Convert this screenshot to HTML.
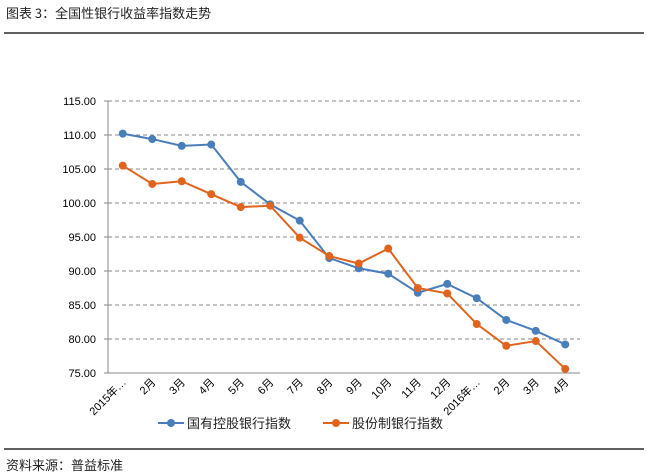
<!DOCTYPE html>
<html><head><meta charset="utf-8"><style>
body{margin:0;background:#fff;width:649px;height:476px;overflow:hidden;font-family:"Liberation Sans","Noto Sans CJK SC",sans-serif}
svg{display:block}
</style></head><body>
<svg id="c" width="649" height="476">
<text x="6" y="18" font-size="13" fill="#222" font-family="Noto Sans CJK SC,sans-serif">图表 3：全国性银行收益率指数走势</text>
<line x1="4" y1="33" x2="644" y2="33" stroke="#000" stroke-width="1.3"/>
<line x1="4" y1="449" x2="644" y2="449" stroke="#000" stroke-width="1.3"/>
<text x="6" y="470" font-size="13" fill="#222" font-family="Noto Sans CJK SC,sans-serif">资料来源：普益标准</text>
<g id="plot"></g>
</svg>
<script>
const categories=["2015年…","2月","3月","4月","5月","6月","7月","8月","9月","10月","11月","12月","2016年…","2月","3月","4月"];
const stateOwned=[110.2,109.4,108.4,108.6,103.1,99.8,97.4,91.9,90.4,89.6,86.8,88.1,86.0,82.8,81.2,79.2];
const jointStock=[105.5,102.8,103.2,101.3,99.4,99.6,94.9,92.2,91.1,93.3,87.5,86.7,82.2,79.0,79.7,75.6];
const yTicks=[75,80,85,90,95,100,105,110,115];
const NS="http://www.w3.org/2000/svg";
const g=document.getElementById('plot');
const x0=108,x1=580,yTop=101,yBot=373,yMin=75,yMax=115;
const xs=i=>x0+(x1-x0)/categories.length*(i+0.5);
const ys=v=>yBot-(v-yMin)/(yMax-yMin)*(yBot-yTop);
function mk(t,a){const e=document.createElementNS(NS,t);for(const k in a)e.setAttribute(k,a[k]);g.appendChild(e);return e;}
yTicks.forEach(v=>{
  if(v>yMin){const l=mk('line',{x1:x0,x2:x1,y1:ys(v),y2:ys(v),stroke:'#888','stroke-dasharray':'4,3'});
  
  }
  const tk=mk('line',{x1:x0-4,x2:x0,y1:ys(v),y2:ys(v),stroke:'#888'});
  
  
  const t=mk('text',{x:96,y:ys(v)+4,'text-anchor':'end','font-size':'11',fill:'#000'});
  t.textContent=v.toFixed(2);
  
  
});
const ya=mk('line',{x1:x0,x2:x0,y1:yTop,y2:yBot,stroke:'#888'});


const xa=mk('line',{x1:x0,x2:x1,y1:yBot,y2:yBot,stroke:'#888'});


categories.forEach((c,i)=>{
  const x=xs(i)+4,y=yBot+10;
  const t=mk('text',{x:x,y:y,'text-anchor':'end','font-size':'11',fill:'#000',transform:`rotate(-45 ${x} ${y})`,'font-family':'Liberation Sans,Noto Sans CJK SC,sans-serif'});
  t.textContent=c;
  
  
});
function series(vals,color,name){
  const p=mk('polyline',{points:vals.map((v,i)=>xs(i)+','+ys(v)).join(' '),fill:'none',stroke:color,'stroke-width':'2'});
  
  
  vals.forEach((v,i)=>{const c=mk('circle',{cx:xs(i),cy:ys(v),r:4,fill:color});
  
  });
}
series(stateOwned,'#4a7ebb','state-owned');
series(jointStock,'#e0641e','joint-stock');
function legend(x,color,label,name){
  const l=mk('line',{x1:x,x2:x+26,y1:423,y2:423,stroke:color,'stroke-width':'2'});
  
  
  const c=mk('circle',{cx:x+13,cy:423,r:4,fill:color});
  
  
  const t=mk('text',{x:x+29,y:428,'font-size':'13',fill:'#222','font-family':'Noto Sans CJK SC,sans-serif'});
  t.textContent=label;
  
  
}
legend(158,'#4a7ebb','国有控股银行指数','state-owned');
legend(323,'#e0641e','股份制银行指数','joint-stock');
</script>
</body></html>
